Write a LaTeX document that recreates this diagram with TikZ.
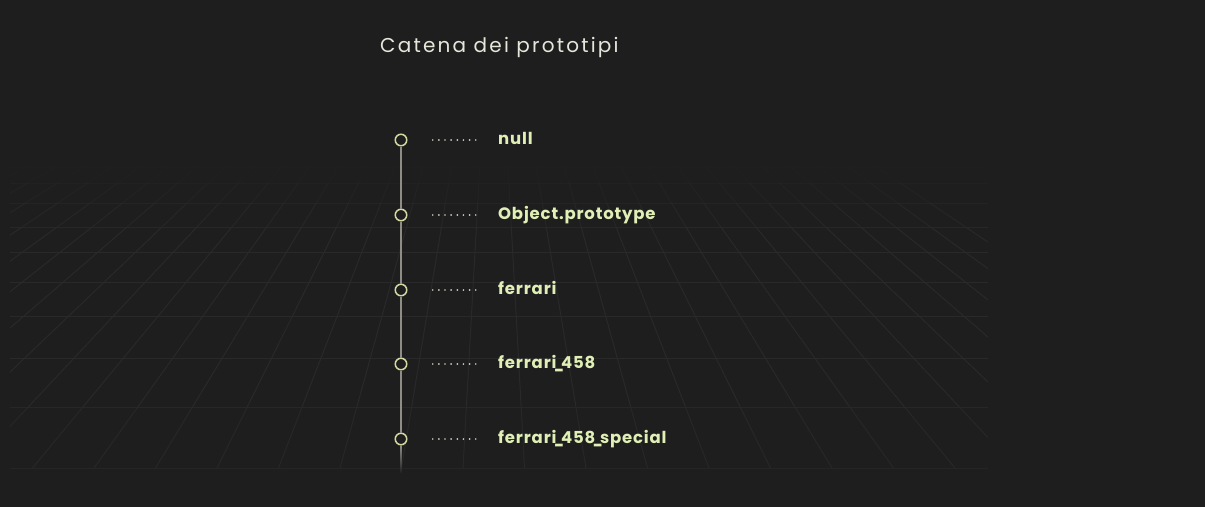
\documentclass[tikz,border=0pt]{standalone}
\usepackage{fontspec}
\usepackage{graphicx}
\setmainfont{Poppins}
\usetikzlibrary{calc}
\definecolor{bg}{HTML}{1E1E1F}
\definecolor{gridc}{HTML}{29292A}
\definecolor{linec}{HTML}{8E8E86}
\definecolor{ringc}{HTML}{D4D8A2}
\definecolor{labelc}{HTML}{E0EFB6}
\definecolor{titlec}{HTML}{E6E6DA}
\definecolor{dotc}{HTML}{CFD0C4}
\newcommand\usc{\kern-2.5pt\scalebox{0.75}[1]{\_}\kern-2.5pt}
\begin{document}
\begin{tikzpicture}[x=1pt,y=-1pt,
  ring/.style={circle, draw=ringc, line width=1.5pt, fill=bg, minimum size=11.5pt, inner sep=0pt},
  lbl/.style={anchor=base west, inner sep=0pt, text=labelc, font=\fontsize{16.5}{19}\selectfont\bfseries\addfontfeatures{LetterSpace=5}},
  dots/.style={draw=dotc, line width=1.9pt, line cap=round, dash pattern=on 0pt off 6.14pt, shorten <=25.25pt, shorten >=21.5pt},
  chain/.style={draw=linec, line width=1.4pt},
  gridline/.style={line width=1pt, draw=gridc}]
\fill[bg] (0,0) rectangle (1205,507);
\useasboundingbox (0,0) rectangle (1205,507);
% perspective floor grid
\begin{scope}
  \clip (10,150) rectangle (988,469);
  \foreach \yy/\o in {167/0.1,183/0.35,203/0.6,227/0.85,252/1,282/1,316/1,358/1,407/0.9,468/0.7}{
    \draw[gridline, draw opacity=\o] (10,\yy) -- (988,\yy);
  }
  \foreach \k in {-25,...,16}{
    \pgfmathsetmacro{\fb}{(340+61.5*\k-494)/558}
    \foreach \ya/\yb/\o in {150/167/0.05,167/183/0.2,183/203/0.45,203/227/0.75,227/407/1,407/468/0.85}{
      \draw[gridline, draw opacity=\o] ({494+\fb*(\ya+90)},\ya) -- ({494+\fb*(\yb+90)},\yb);
    }
  }
\end{scope}
% title
\node[anchor=base west, inner sep=0pt, text=titlec, font=\fontsize{20}{24}\selectfont\addfontfeatures{LetterSpace=11}] (title) at (380,52) {Catena dei prototipi};
% chain
\node[ring] (c1) at (401,140) {};
\node[ring] (c2) at (401,215) {};
\node[ring] (c3) at (401,290) {};
\node[ring] (c4) at (401,364) {};
\node[ring] (c5) at (401,439) {};
\draw[chain] (c1) -- (c2);
\draw[chain] (c2) -- (c3);
\draw[chain] (c3) -- (c4);
\draw[chain] (c4) -- (c5);
\shade[top color=linec, bottom color=bg] ($(c5.south)+(-0.7,0)$) rectangle ($(c5.south)+(0.7,28)$);
% labels
\node[lbl] (l1) at (498,144) {null};
\node[lbl] (l2) at (498,219) {Object.prototype};
\node[lbl] (l3) at (498,294) {ferrari};
\node[lbl] (l4) at (498,368) {ferrari\usc 458};
\node[lbl] (l5) at (498,443) {ferrari\usc 458\usc special};
\foreach \i in {1,...,5}{
  \draw[dots] (c\i.east) -- (c\i.east -| l\i.west);
}
\end{tikzpicture}
\end{document}
